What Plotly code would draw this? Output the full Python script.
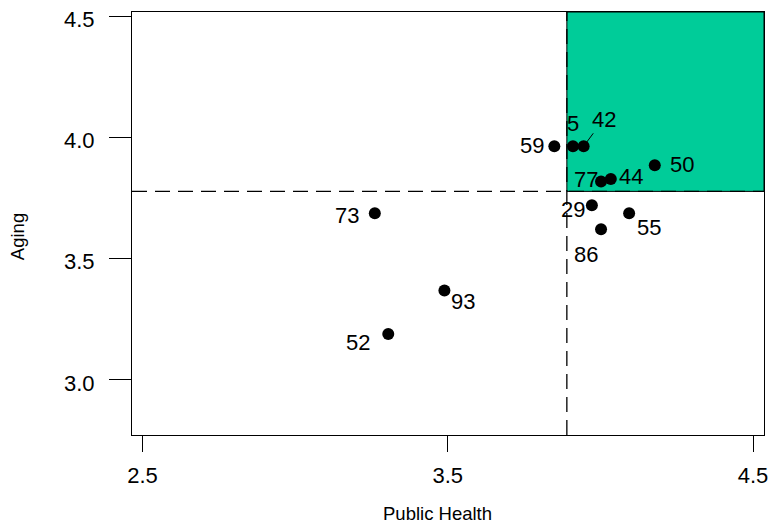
import plotly.graph_objects as go

# Regional scores: Public Health (x) vs Aging (y)
region_ids = ["59", "5", "42", "77", "44", "50", "29", "55", "86", "73", "93", "52"]
public_health = [3.849, 3.910, 3.945, 4.002, 4.034, 4.178, 3.972, 4.094, 4.002, 3.261, 3.489, 3.305]
aging = [3.964, 3.964, 3.964, 3.819, 3.829, 3.886, 3.721, 3.688, 3.622, 3.688, 3.369, 3.190]

# Reference thresholds splitting the plane into quadrants
ph_threshold = 3.890
aging_threshold = 3.778

x_ticks = [2.5, 3.5, 4.5]
y_ticks = [3.0, 3.5, 4.0, 4.5]

x_range = [2.4656, 4.5358]
y_range = [2.773, 4.518]

FONT = "Liberation Sans, Arial, Helvetica, sans-serif"

# label placement (pixel offsets of label centre from its point)
label_offsets = {
    "59": (-22, -1), "5": (0, -23), "42": (20, -27), "77": (-15, -2),
    "44": (20, -3), "50": (27, -1), "29": (-19, 4), "55": (20, 14),
    "86": (-15, 25), "73": (-28, 2), "93": (19, 11), "52": (-30, 9),
}
leader_lines = {"42"}

fig = go.Figure()

fig.add_trace(go.Scatter(
    x=public_health, y=aging, mode="markers",
    marker=dict(color="black", size=12, line=dict(width=0)),
    hoverinfo="text", text=region_ids, showlegend=False,
))

shapes = [
    # highlighted high/high quadrant
    dict(type="rect", xref="x", yref="y",
         x0=ph_threshold, x1=x_range[1], y0=aging_threshold, y1=y_range[1],
         fillcolor="#00CC99", line=dict(color="black", width=1), layer="below"),
    dict(type="line", xref="x", yref="paper",
         x0=ph_threshold, x1=ph_threshold, y0=0, y1=1,
         line=dict(color="black", width=1.3, dash="15px,8px")),
    dict(type="line", xref="paper", yref="y",
         x0=0, x1=1, y0=aging_threshold, y1=aging_threshold,
         line=dict(color="black", width=1.3, dash="15px,8px")),
]

annotations = []
for rid, xv, yv in zip(region_ids, public_health, aging):
    dx, dy = label_offsets[rid]
    annotations.append(dict(
        x=xv, y=yv, xref="x", yref="y", text=rid,
        showarrow=True, ax=dx, ay=dy, axref="pixel", ayref="pixel",
        arrowhead=0, arrowwidth=1, standoff=2,
        arrowcolor="black" if rid in leader_lines else "rgba(0,0,0,0)",
        font=dict(family=FONT, size=22, color="black"),
    ))

# axis titles
annotations.append(dict(
    text="Public Health", xref="paper", yref="paper", x=0.4826, y=-0.1866,
    showarrow=False, font=dict(family=FONT, size=18.5, color="black"),
    xanchor="center", yanchor="middle"))
annotations.append(dict(
    text="Aging", xref="paper", yref="paper", x=-0.1799, y=0.4685,
    showarrow=False, textangle=-90, font=dict(family=FONT, size=18.5, color="black"),
    xanchor="center", yanchor="middle"))

axis_common = dict(
    showgrid=False, zeroline=False, showline=True, linecolor="black",
    linewidth=1, mirror=True, ticks="outside", tickcolor="black", tickwidth=1,
    tickfont=dict(family=FONT, size=22, color="black"), tickformat=".1f",
    automargin=False,
)

fig.update_layout(
    width=770, height=525,
    margin=dict(l=132, r=6, t=12, b=90),
    paper_bgcolor="white", plot_bgcolor="white",
    shapes=shapes, annotations=annotations,
    xaxis=dict(range=x_range, tickvals=x_ticks, ticklen=16,
               ticklabelstandoff=5, **axis_common),
    yaxis=dict(range=y_range, tickvals=y_ticks, ticklen=22,
               ticklabelstandoff=10, ticklabelshift=3, **axis_common),
)

fig.write_html("out.html")
